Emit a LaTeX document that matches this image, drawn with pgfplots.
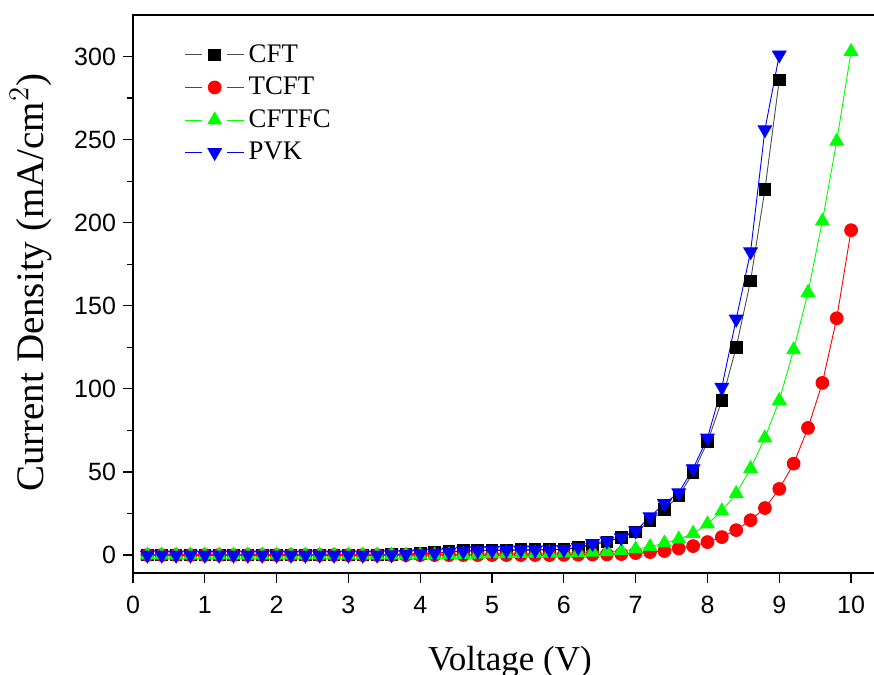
\documentclass[border=0pt]{standalone}
\usepackage{pgfplots}
\pgfplotsset{compat=1.18}
\usepackage{pgfplotstable}
\usepackage{fontspec}
\setmainfont{Liberation Serif}
\newfontfamily\arial{Liberation Sans}
\definecolor{ored}{RGB}{255,0,0}
\definecolor{ogreen}{RGB}{0,255,0}
\definecolor{oblue}{RGB}{0,0,255}

\pgfplotstableread{
x y
0.2 0
0.4 0
0.6 0
0.8 0
1.0 0
1.2 0
1.4 0
1.6 0
1.8 0
2.0 0
2.2 0
2.4 0
2.6 0
2.8 0
3.0 0
3.2 0
3.4 0
3.6 0.3
3.8 0.6
4.0 1.0
4.2 1.4
4.4 2.0
4.6 2.6
4.8 2.8
5.0 3.0
5.2 3.1
5.4 3.3
5.6 3.3
5.8 3.4
6.0 3.6
6.2 4.5
6.4 6.0
6.6 8.0
6.8 10.5
7.0 14
7.2 20.5
7.4 27.5
7.6 35.5
7.8 49.5
8.0 68
8.2 93
8.4 125
8.6 165
8.8 220
9.0 286
}\cft

\pgfplotstableread{
x y
0.2 0
0.4 0
0.6 0
0.8 0
1.0 0
1.2 0
1.4 0
1.6 0
1.8 0
2.0 0
2.2 0
2.4 0
2.6 0
2.8 0
3.0 0
3.2 0
3.4 0
3.6 0
3.8 0
4.0 0
4.2 0
4.4 0
4.6 0
4.8 0
5.0 0
5.2 0
5.4 0
5.6 0
5.8 0
6.0 0.1
6.2 0.2
6.4 0.3
6.6 0.4
6.8 0.6
7.0 1.2
7.2 1.8
7.4 2.4
7.6 4.0
7.8 5.4
8.0 7.8
8.2 10.8
8.4 15
8.6 21
8.8 28.3
9.0 39.8
9.2 55
9.4 76.5
9.6 103.6
9.8 142.5
10.0 195.5
}\tcft

\pgfplotstableread{
x y
0.2 0
0.4 0
0.6 0
0.8 0
1.0 0
1.2 0
1.4 0
1.6 0
1.8 0
2.0 0
2.2 0
2.4 0
2.6 0
2.8 0
3.0 0
3.2 0
3.4 0
3.6 0
3.8 0
4.0 0
4.2 0
4.4 0.1
4.6 0.3
4.8 0.5
5.0 0.7
5.2 0.8
5.4 0.9
5.6 1.0
5.8 1.1
6.0 1.2
6.2 1.4
6.4 1.7
6.6 2.0
6.8 2.5
7.0 3.6
7.2 5.0
7.4 7.2
7.6 9.6
7.8 13
8.0 18.7
8.2 26.5
8.4 37
8.6 52
8.8 70.5
9.0 93
9.2 123.5
9.4 158
9.6 201
9.8 249
10.0 303
}\cftfc

\pgfplotstableread{
x y
0.2 0
0.4 0
0.6 0
0.8 0
1.0 0
1.2 0
1.4 0
1.6 0
1.8 0
2.0 0
2.2 0
2.4 0
2.6 0
2.8 0
3.0 0
3.2 0
3.4 0
3.6 0.2
3.8 0.5
4.0 0.8
4.2 1.2
4.4 1.8
4.6 2.4
4.8 2.6
5.0 2.8
5.2 2.9
5.4 3.0
5.6 3.0
5.8 3.1
6.0 3.4
6.2 4.6
6.4 7.0
6.6 8.5
6.8 10.5
7.0 14.5
7.2 23
7.4 31
7.6 37.5
7.8 52
8.0 70.5
8.2 101
8.4 142
8.6 182.5
8.8 256
9.0 301
}\pvk

\begin{document}
\begin{tikzpicture}
\begin{axis}[
scale only axis,
width=377pt,height=279pt,
xmin=0,xmax=10.5,
ymin=-10.8,ymax=325,
xtick={0,1,...,10},
ytick={0,50,...,300},
minor y tick num=1,
tick align=outside,
xtick pos=left,ytick pos=left,
major tick length=5pt,
minor tick length=3pt,
tick style={black,line width=0.6pt},
axis line style={line width=0.9pt},
ticklabel style={font=\arial\fontsize{12.5}{14}\selectfont},
xticklabel style={yshift=-3pt},
/pgf/number format/assume math mode=true,
xlabel={Voltage (V)},
ylabel={Current Density (mA/cm$^{2}$)},
xlabel style={font=\fontsize{17.5}{20}\selectfont,at={(axis description cs:0.5,0)},anchor=north,yshift=-33pt},
ylabel style={font=\fontsize{19.5}{22}\selectfont,at={(axis description cs:0,0.52)},anchor=south,yshift=37pt},
legend style={draw=none,fill=none,at={(rel axis cs:0.068,0.955)},anchor=north west,
  font=\fontsize{13.4}{16.5}\selectfont,row sep=1.9pt,inner sep=0pt},
legend cell align=left,
legend image code/.code={
  \draw[mark=none] (0cm,0cm) -- (0.30cm,0cm);
  \draw[mark=none] (0.74cm,0cm) -- (1.04cm,0cm);
  \draw[only marks] plot coordinates {(0.52cm,0cm)};
},
every axis plot/.append style={line width=0.45pt},
]
\addplot[black!70,mark=square*,mark size=2.9pt,mark options={black,fill=black}] table[x=x,y=y]{\cft};
\addlegendentry{CFT}
\addplot[ored,mark=*,mark size=3.2pt,mark options={ored,fill=ored}] table[x=x,y=y]{\tcft};
\addlegendentry{TCFT}
\addplot[ogreen,mark=triangle*,mark size=3.9pt,mark options={ogreen,fill=ogreen}] table[x=x,y=y]{\cftfc};
\addlegendentry{CFTFC}
\addplot[oblue,mark=triangle*,mark size=3.9pt,mark options={oblue,fill=oblue,rotate=180}] table[x=x,y=y]{\pvk};
\addlegendentry{PVK}
\end{axis}
\pgfresetboundingbox
\useasboundingbox (-66.5pt,-51pt) rectangle (370.5pt,286.5pt);
\end{tikzpicture}
\end{document}
